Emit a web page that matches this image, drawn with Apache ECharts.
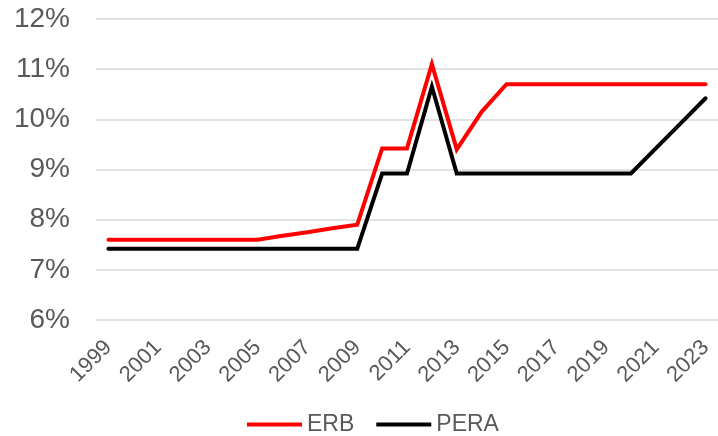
<!DOCTYPE html>
<html>
<head>
<meta charset="utf-8">
<script src="https://cdn.jsdelivr.net/npm/echarts@6/dist/echarts.min.js"></script>
<style>
    html, body { margin: 0; padding: 0; background: #fff; }
    #chart { width: 718px; height: 436px; }
</style>
</head>
<body>
<div id="chart"></div>
<script>
// rates by year, in percent
var years = ['1999', '2000', '2001', '2002', '2003', '2004', '2005', '2006', '2007', '2008',
    '2009', '2010', '2011', '2012', '2013', '2014', '2015', '2016', '2017', '2018',
    '2019', '2020', '2021', '2022', '2023'];
var erb = [7.6, 7.6, 7.6, 7.6, 7.6, 7.6, 7.6, 7.68, 7.75, 7.83,
    7.9, 9.42, 9.42, 11.1, 9.4, 10.15, 10.7, 10.7, 10.7, 10.7,
    10.7, 10.7, 10.7, 10.7, 10.7];
var pera = [7.42, 7.42, 7.42, 7.42, 7.42, 7.42, 7.42, 7.42, 7.42, 7.42,
    7.42, 8.92, 8.92, 10.65, 8.92, 8.92, 8.92, 8.92, 8.92, 8.92,
    8.92, 8.92, 9.42, 9.92, 10.42];

var txtColor = '#595959';
var myChart = echarts.init(document.getElementById('chart'));

var option = {
    animation: false,
    grid: {
        left: 96,
        right: 0,
        top: 19,
        bottom: 116
    },
    legend: {
        top: 408,
        left: 242,
        icon: 'rect',
        itemWidth: 55,
        itemHeight: 4,
        itemGap: 22,
        textStyle: {
            color: txtColor,
            fontSize: 23,
            fontFamily: 'Liberation Sans'
        },
        data: ['ERB', 'PERA']
    },
    xAxis: {
        type: 'category',
        data: years,
        axisLine: { show: false },
        axisTick: { show: false },
        axisLabel: {
            interval: 1,
            rotate: 45,
            margin: 24,
            color: txtColor,
            fontSize: 22,
            fontFamily: 'Liberation Sans'
        }
    },
    yAxis: {
        type: 'value',
        min: 6,
        max: 12,
        interval: 1,
        axisLine: { show: false },
        axisTick: { show: false },
        axisLabel: {
            formatter: '{value}%',
            margin: 26,
            color: txtColor,
            fontSize: 28,
            fontFamily: 'Liberation Sans'
        },
        splitLine: {
            lineStyle: { color: '#d9d9d9', width: 1.5 }
        }
    },
    series: [{
        name: 'ERB',
        type: 'line',
        symbol: 'none',
        data: erb,
        lineStyle: { color: '#ff0000', width: 4, cap: 'round', join: 'miter' },
        itemStyle: { color: '#ff0000' }
    }, {
        name: 'PERA',
        type: 'line',
        symbol: 'none',
        data: pera,
        lineStyle: { color: '#000000', width: 4, cap: 'round', join: 'miter' },
        itemStyle: { color: '#000000' }
    }]
};
myChart.setOption(option);
</script>
</body>
</html>
